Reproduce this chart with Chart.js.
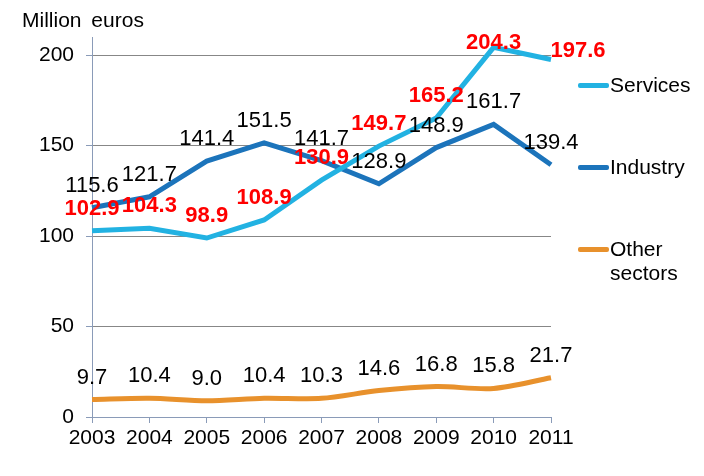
<!DOCTYPE html>
<html>
<head>
<meta charset="utf-8">
<script src="https://cdn.jsdelivr.net/npm/chart.js@4.4.0/dist/chart.umd.min.js"></script>
<style>
  body { margin: 0; background: #fff; }
  #wrap { position: relative; width: 704px; height: 476px; font-family: "Liberation Sans", Arial, sans-serif; }
  #title { position: absolute; left: 22px; top: 8px; font-size: 21px; word-spacing: 4px; color: #000; }
  .leg { position: absolute; left: 578px; font-size: 21px; color: #000; line-height: 24px; }
  .leg span.sw { position: absolute; left: 0; width: 31px; height: 5px; border-radius: 2px; }
  .leg span.tx { position: absolute; left: 32px; white-space: nowrap; }
</style>
</head>
<body>
<div id="wrap">
  <canvas id="chart" width="704" height="476"></canvas>
  <div id="title">Million euros</div>
  <div id="legend"></div>
</div>
<script>
// Data
const years = ["2003", "2004", "2005", "2006", "2007", "2008", "2009", "2010", "2011"];
const services = [102.9, 104.3, 98.9, 108.9, 130.9, 149.7, 165.2, 204.3, 197.6];
const industry = [115.6, 121.7, 141.4, 151.5, 141.7, 128.9, 148.9, 161.7, 139.4];
const otherSectors = [9.7, 10.4, 9.0, 10.4, 10.3, 14.6, 16.8, 15.8, 21.7];
const yTicks = [0, 50, 100, 150, 200];

const FONT = '"Liberation Sans", Arial, sans-serif';

// Legend (drawn as html on the right)
const legendItems = [
  { label: "Services", color: "#22B2E2", top: 73 },
  { label: "Industry", color: "#1C74BB", top: 155 },
  { label: "Other<br>sectors", color: "#E8912C", top: 237 }
];
const legendEl = document.getElementById("legend");
legendItems.forEach(item => {
  let div = document.createElement("div");
  div.className = "leg";
  div.style.top = item.top + "px";
  div.innerHTML = `<span class="sw" style="background:${item.color};top:10px"></span><span class="tx">${item.label}</span>`;
  legendEl.appendChild(div);
});

// Small shift for one label that sits beside its point
const labelNudge = { 0: { 8: { dx: 27, dy: 13 } } };

// Plugin: value labels above each point
const valueLabels = {
  id: "valueLabels",
  afterDatasetsDraw(chart) {
    const c = chart.ctx;
    c.save();
    c.textAlign = "center";
    c.textBaseline = "middle";
    chart.data.datasets.forEach((ds, i) => {
      const meta = chart.getDatasetMeta(i);
      c.font = (ds.labelBold ? "bold " : "") + "22px " + FONT;
      c.fillStyle = ds.labelColor;
      meta.data.forEach((pt, j) => {
        const n = (labelNudge[i] && labelNudge[i][j]) || { dx: 0, dy: 0 };
        let y = Math.max(pt.y - 22 + n.dy, 43);
        c.fillText(ds.data[j].toFixed(1), pt.x + n.dx, y);
      });
    });
    c.restore();
  }
};

const ctx = document.getElementById("chart").getContext("2d");
const chart = new Chart(ctx, {
  type: "line",
  data: {
    labels: years,
    datasets: [
      { label: "Services", data: services, borderColor: "#22B2E2", borderWidth: 5, pointRadius: 0, tension: 0, labelColor: "#FF0000", labelBold: true },
      { label: "Industry", data: industry, borderColor: "#1C74BB", borderWidth: 5, pointRadius: 0, tension: 0, labelColor: "#000000", labelBold: false },
      { label: "Other sectors", data: otherSectors, borderColor: "#E8912C", borderWidth: 5, pointRadius: 0, tension: 0.3, labelColor: "#000000", labelBold: false }
    ]
  },
  options: {
    responsive: false,
    animation: false,
    maintainAspectRatio: false,
    layout: { padding: { left: 0, top: 37, right: 153, bottom: 0 } },
    plugins: { legend: { display: false }, tooltip: { enabled: false } },
    scales: {
      x: {
        offset: false,
        grid: { drawOnChartArea: false, drawTicks: true, tickLength: 6, color: "#8A9BB8" },
        border: { color: "#8A9BB8", width: 1 },
        ticks: { color: "#000", font: { family: FONT, size: 21 }, padding: 3, maxRotation: 0, autoSkip: false },
        afterFit(scale) { scale.height = 59; }
      },
      y: {
        min: 0,
        max: 210,
        ticks: { color: "#000", font: { family: FONT, size: 21 }, padding: 12 },
        grid: { color: "#878787", tickLength: 6, tickColor: "#8A9BB8" },
        border: { color: "#8A9BB8", width: 1 },
        afterBuildTicks(axis) { axis.ticks = yTicks.map(v => ({ value: v })); },
        afterFit(scale) { scale.width = 92; }
      }
    }
  },
  plugins: [valueLabels]
});
</script>
</body>
</html>
